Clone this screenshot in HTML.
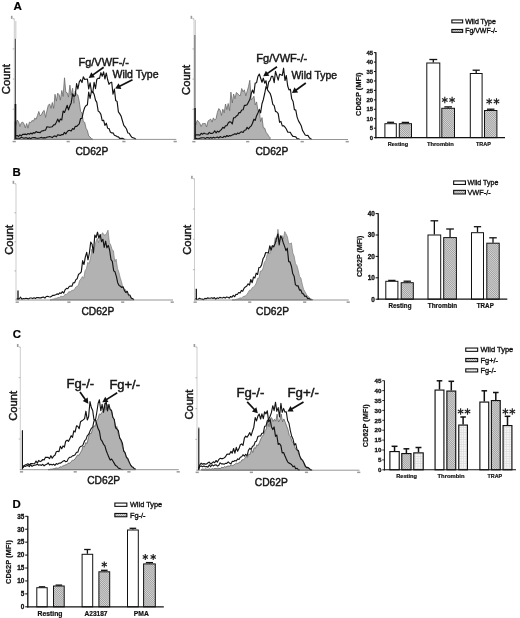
<!DOCTYPE html>
<html><head><meta charset="utf-8"><title>Figure</title>
<style>html,body{margin:0;padding:0;background:#fff;}body{width:520px;height:618px;overflow:hidden;font-family:"Liberation Sans",sans-serif;}svg{display:block;filter:blur(0.45px);}</style>
</head><body>
<svg width="520" height="618" viewBox="0 0 520 618" font-family="'Liberation Sans', sans-serif">
<defs>
<pattern id="hat" width="1.5" height="1.5" patternUnits="userSpaceOnUse" patternTransform="rotate(-45)"><rect width="1.5" height="1.5" fill="#d8d8d8"/><rect width="0.75" height="1.5" fill="#9c9c9c"/></pattern>
<pattern id="dot" width="2.4" height="2.4" patternUnits="userSpaceOnUse"><rect width="2.4" height="2.4" fill="#f7f7f7"/><rect width="0.8" height="2.4" fill="#dedede"/><rect width="2.4" height="0.8" fill="#dedede"/></pattern>
</defs>
<rect width="520" height="618" fill="#fff"/>
<text x="13.40" y="9.70" font-size="11.6" font-weight="bold" text-anchor="start" fill="#000"  stroke="#000" stroke-width="0.2">A</text>
<path d="M14.5 121.7 L15.8 125.5 L17.2 120.0 L18.6 121.9 L19.9 126.5 L21.3 122.8 L22.6 122.0 L24.0 124.0 L25.3 127.8 L26.7 123.5 L28.0 128.2 L29.4 122.1 L30.7 122.7 L32.1 120.4 L33.4 121.3 L34.8 118.1 L36.1 119.3 L37.5 115.4 L38.8 111.5 L40.2 115.8 L41.5 114.8 L42.9 111.6 L44.2 110.4 L45.6 117.4 L46.9 111.0 L48.3 105.3 L49.6 103.9 L51.0 108.4 L52.3 102.5 L53.7 108.4 L55.0 94.3 L56.4 101.1 L57.7 93.2 L59.1 94.8 L60.4 100.1 L61.8 90.5 L63.1 96.4 L64.5 77.8 L65.8 92.2 L67.2 92.9 L68.5 97.1 L69.9 85.1 L71.2 95.2 L72.6 88.3 L73.9 103.3 L75.2 91.1 L76.6 94.4 L77.9 95.0 L79.3 101.8 L80.6 111.6 L82.0 112.9 L83.3 121.8 L84.7 122.3 L86.0 128.2 L87.4 130.6 L88.7 136.0 L90.1 137.0 L91.4 138.7 L92.8 139.2 L92.8 139.4 L14.5 139.4 Z" fill="#b2b2b2" stroke="#6a6a6a" stroke-width="0.8" stroke-linejoin="round"/>
<path d="M14.5 136.2 L15.8 135.7 L17.2 135.6 L18.6 136.4 L19.9 134.9 L21.3 135.8 L22.6 134.4 L24.0 134.4 L25.3 134.1 L26.7 134.7 L28.0 133.5 L29.4 134.2 L30.7 133.1 L32.1 134.0 L33.4 132.6 L34.8 133.1 L36.1 131.5 L37.5 132.4 L38.8 132.4 L40.2 132.6 L41.5 131.0 L42.9 130.9 L44.2 130.3 L45.6 130.1 L46.9 126.8 L48.3 127.0 L49.6 127.3 L51.0 127.0 L52.3 126.7 L53.7 124.9 L55.0 124.6 L56.4 122.3 L57.7 119.1 L59.1 122.1 L60.4 119.1 L61.8 119.9 L63.1 111.0 L64.5 112.5 L65.8 109.1 L67.2 105.3 L68.5 109.9 L69.9 105.8 L71.2 102.9 L72.6 93.8 L73.9 96.4 L75.2 95.6 L76.6 83.6 L77.9 89.0 L79.3 81.9 L80.6 79.7 L82.0 82.6 L83.3 76.9 L84.7 79.4 L86.0 79.2 L87.4 79.0 L88.7 88.9 L90.1 82.8 L91.4 91.2 L92.8 91.9 L94.1 94.2 L95.5 100.1 L96.8 102.4 L98.2 111.1 L99.5 112.0 L100.9 114.4 L102.2 120.7 L103.6 120.2 L104.9 125.4 L106.3 123.2 L107.6 128.2 L109.0 128.5 L110.3 132.0 L111.7 133.0 L113.0 132.9 L114.4 135.2 L115.7 135.7 L117.1 136.6 L118.4 136.9 L119.8 138.5 L121.1 138.4 L122.5 138.3 L123.8 139.0 L125.2 139.2" fill="none" stroke="#141414" stroke-width="1.15" stroke-linejoin="round"/>
<path d="M14.5 138.1 L15.8 138.5 L17.2 138.2 L18.6 138.2 L19.9 138.4 L21.3 137.2 L22.6 137.7 L24.0 138.3 L25.3 137.9 L26.7 137.8 L28.0 138.7 L29.4 137.8 L30.7 138.7 L32.1 137.8 L33.4 137.6 L34.8 137.6 L36.1 138.1 L37.5 138.3 L38.8 138.1 L40.2 137.8 L41.5 137.4 L42.9 138.1 L44.2 137.6 L45.6 138.0 L46.9 137.1 L48.3 137.0 L49.6 136.5 L51.0 137.0 L52.3 137.6 L53.7 136.2 L55.0 135.9 L56.4 136.8 L57.7 134.8 L59.1 135.1 L60.4 135.5 L61.8 134.5 L63.1 134.6 L64.5 132.4 L65.8 133.9 L67.2 131.7 L68.5 130.5 L69.9 130.4 L71.2 131.0 L72.6 128.5 L73.9 129.4 L75.2 126.4 L76.6 126.5 L77.9 125.1 L79.3 123.9 L80.6 118.5 L82.0 118.4 L83.3 111.9 L84.7 107.5 L86.0 105.7 L87.4 104.8 L88.7 92.0 L90.1 98.5 L91.4 91.3 L92.8 92.6 L94.1 82.4 L95.5 88.6 L96.8 79.4 L98.2 78.2 L99.5 78.4 L100.9 72.7 L102.2 76.2 L103.6 71.9 L104.9 79.0 L106.3 73.0 L107.6 79.5 L109.0 84.3 L110.3 82.7 L111.7 82.2 L113.0 94.2 L114.4 89.1 L115.7 100.6 L117.1 101.4 L118.4 111.9 L119.8 113.9 L121.1 116.1 L122.5 121.0 L123.8 125.4 L125.2 127.0 L126.5 129.0 L127.9 133.0 L129.2 133.2 L130.6 135.6 L131.9 137.3 L133.3 137.9 L134.6 138.3 L136.0 139.4" fill="none" stroke="#141414" stroke-width="1.15" stroke-linejoin="round"/>
<line x1="15.80" y1="21.00" x2="15.80" y2="38.75" stroke="#cfcfcf" stroke-width="1.2" />
<line x1="15.30" y1="38.75" x2="15.30" y2="104.00" stroke="#383838" stroke-width="1.05" />
<line x1="15.30" y1="104.00" x2="15.30" y2="139.40" stroke="#111" stroke-width="2.0" />
<line x1="14.30" y1="18.75" x2="14.30" y2="139.80" stroke="#ababab" stroke-width="0.6" />
<line x1="13.80" y1="139.40" x2="176.30" y2="139.40" stroke="#7a7a7a" stroke-width="0.8" />
<line x1="12.70" y1="18.75" x2="14.30" y2="18.75" stroke="#8a8a8a" stroke-width="0.6" />
<line x1="12.70" y1="48.91" x2="14.30" y2="48.91" stroke="#8a8a8a" stroke-width="0.6" />
<line x1="12.70" y1="79.08" x2="14.30" y2="79.08" stroke="#8a8a8a" stroke-width="0.6" />
<line x1="12.70" y1="109.24" x2="14.30" y2="109.24" stroke="#8a8a8a" stroke-width="0.6" />
<rect x="12.6" y="140.8" width="3.2" height="1.5" fill="#9a9a9a"/>
<rect x="66.6" y="140.8" width="3.2" height="1.5" fill="#9a9a9a"/>
<rect x="122.3" y="140.8" width="3.2" height="1.5" fill="#9a9a9a"/>
<rect x="173.6" y="140.8" width="3.2" height="1.5" fill="#9a9a9a"/>
<rect x="10.9" y="15.8" width="1.6" height="3" fill="#9a9a9a"/>
<text x="10.50" y="79.20" font-size="10.4" font-weight="normal" text-anchor="middle" fill="#161616" transform="rotate(-90 10.50 79.20)" textLength="30.0" lengthAdjust="spacingAndGlyphs"  stroke="#161616" stroke-width="0.45">Count</text>
<text x="91.90" y="155.00" font-size="11.4" font-weight="normal" text-anchor="middle" fill="#161616" textLength="33.0" lengthAdjust="spacingAndGlyphs"  stroke="#161616" stroke-width="0.45">CD62P</text>
<text x="78.50" y="65.50" font-size="11.3" font-weight="normal" text-anchor="start" fill="#161616" textLength="50.5" lengthAdjust="spacingAndGlyphs"  stroke="#161616" stroke-width="0.45">Fg/VWF-/-</text>
<text x="112.50" y="77.60" font-size="10.8" font-weight="normal" text-anchor="start" fill="#161616" textLength="46.0" lengthAdjust="spacingAndGlyphs"  stroke="#161616" stroke-width="0.45">Wild Type</text>
<line x1="103.70" y1="67.30" x2="92.24" y2="75.40" stroke="#111" stroke-width="1.7" />
<polygon points="88.7,77.9 91.3,72.3 94.9,77.3" fill="#111"/>
<line x1="132.50" y1="79.80" x2="119.08" y2="86.55" stroke="#111" stroke-width="1.7" />
<polygon points="115.2,88.5 118.6,83.3 121.4,88.9" fill="#111"/>
<path d="M194.5 122.5 L195.8 124.9 L197.2 120.3 L198.5 121.5 L199.9 123.6 L201.2 126.6 L202.6 123.5 L203.9 123.7 L205.3 123.4 L206.6 127.0 L208.0 121.2 L209.3 120.1 L210.7 119.1 L212.0 122.1 L213.4 117.9 L214.7 120.2 L216.1 118.5 L217.4 112.4 L218.8 108.6 L220.1 110.1 L221.5 115.5 L222.8 109.2 L224.2 112.8 L225.5 104.0 L226.9 109.7 L228.2 103.5 L229.6 110.7 L230.9 92.1 L232.3 103.0 L233.6 94.0 L235.0 98.7 L236.3 92.6 L237.7 93.5 L239.0 95.4 L240.4 95.6 L241.7 88.5 L243.1 91.8 L244.4 89.8 L245.8 95.8 L247.1 91.4 L248.5 86.7 L249.8 80.3 L251.2 99.9 L252.5 98.6 L253.9 96.2 L255.2 104.9 L256.6 101.9 L257.9 110.5 L259.3 111.3 L260.6 121.6 L262.0 117.6 L263.3 127.8 L264.7 128.1 L266.0 132.2 L267.4 133.9 L268.7 136.2 L270.1 137.6 L270.1 139.5 L194.5 139.5 Z" fill="#b2b2b2" stroke="#6a6a6a" stroke-width="0.8" stroke-linejoin="round"/>
<path d="M194.5 136.4 L195.8 134.8 L197.2 134.8 L198.5 134.9 L199.9 135.3 L201.2 133.3 L202.6 134.2 L203.9 133.1 L205.3 133.8 L206.6 134.0 L208.0 134.1 L209.3 132.4 L210.7 133.5 L212.0 133.4 L213.4 132.7 L214.7 130.8 L216.1 133.0 L217.4 131.2 L218.8 132.1 L220.1 130.6 L221.5 129.5 L222.8 127.3 L224.2 128.1 L225.5 125.8 L226.9 125.7 L228.2 123.0 L229.6 121.8 L230.9 122.1 L232.3 124.0 L233.6 117.7 L235.0 117.6 L236.3 116.1 L237.7 115.2 L239.0 112.6 L240.4 112.6 L241.7 110.0 L243.1 109.8 L244.4 105.3 L245.8 105.3 L247.1 104.7 L248.5 102.0 L249.8 99.6 L251.2 93.8 L252.5 90.0 L253.9 93.3 L255.2 83.0 L256.6 82.7 L257.9 76.5 L259.3 74.0 L260.6 78.0 L262.0 82.2 L263.3 78.2 L264.7 83.2 L266.0 80.7 L267.4 89.6 L268.7 91.7 L270.1 93.3 L271.4 97.3 L272.8 104.3 L274.2 105.7 L275.5 111.4 L276.9 112.0 L278.2 113.7 L279.6 122.3 L280.9 121.4 L282.3 125.9 L283.6 125.7 L285.0 127.2 L286.3 129.0 L287.7 132.1 L289.0 132.2 L290.4 132.4 L291.7 134.9 L293.1 136.5 L294.4 136.5 L295.8 136.9 L297.1 138.6 L298.5 138.8 L299.8 139.4" fill="none" stroke="#141414" stroke-width="1.15" stroke-linejoin="round"/>
<path d="M194.5 138.8 L195.8 138.2 L197.2 138.7 L198.5 138.7 L199.9 138.2 L201.2 137.9 L202.6 137.7 L203.9 137.8 L205.3 138.6 L206.6 137.6 L208.0 137.5 L209.3 138.4 L210.7 137.4 L212.0 138.2 L213.4 137.3 L214.7 137.9 L216.1 137.5 L217.4 137.0 L218.8 137.9 L220.1 136.6 L221.5 137.2 L222.8 137.5 L224.2 136.3 L225.5 137.0 L226.9 135.5 L228.2 136.5 L229.6 135.5 L230.9 135.9 L232.3 134.9 L233.6 134.6 L235.0 133.7 L236.3 134.4 L237.7 133.0 L239.0 133.7 L240.4 132.3 L241.7 131.8 L243.1 132.5 L244.4 130.2 L245.8 130.0 L247.1 127.3 L248.5 129.0 L249.8 127.2 L251.2 125.9 L252.5 123.2 L253.9 119.2 L255.2 120.3 L256.6 115.7 L257.9 113.0 L259.3 109.4 L260.6 112.9 L262.0 103.7 L263.3 99.7 L264.7 93.5 L266.0 86.7 L267.4 88.8 L268.7 82.0 L270.1 80.4 L271.4 76.4 L272.8 76.4 L274.2 82.6 L275.5 71.4 L276.9 75.8 L278.2 80.1 L279.6 74.2 L280.9 74.8 L282.3 75.4 L283.6 68.2 L285.0 80.5 L286.3 75.5 L287.7 86.0 L289.0 89.9 L290.4 89.4 L291.7 98.8 L293.1 101.5 L294.4 109.6 L295.8 110.1 L297.1 117.1 L298.5 120.9 L299.8 123.1 L301.2 125.7 L302.5 130.4 L303.9 132.7 L305.2 135.0 L306.6 135.5 L307.9 135.4 L309.3 137.7 L310.6 138.7 L312.0 139.5" fill="none" stroke="#141414" stroke-width="1.15" stroke-linejoin="round"/>
<line x1="195.40" y1="20.00" x2="195.40" y2="35.00" stroke="#cfcfcf" stroke-width="1.2" />
<line x1="194.90" y1="35.00" x2="194.90" y2="108.00" stroke="#383838" stroke-width="1.05" />
<line x1="194.90" y1="108.00" x2="194.90" y2="139.50" stroke="#111" stroke-width="1.9" />
<line x1="194.00" y1="18.75" x2="194.00" y2="139.90" stroke="#ababab" stroke-width="0.6" />
<line x1="193.50" y1="139.50" x2="348.00" y2="139.50" stroke="#7a7a7a" stroke-width="0.8" />
<line x1="192.40" y1="18.75" x2="194.00" y2="18.75" stroke="#8a8a8a" stroke-width="0.6" />
<line x1="192.40" y1="48.94" x2="194.00" y2="48.94" stroke="#8a8a8a" stroke-width="0.6" />
<line x1="192.40" y1="79.12" x2="194.00" y2="79.12" stroke="#8a8a8a" stroke-width="0.6" />
<line x1="192.40" y1="109.31" x2="194.00" y2="109.31" stroke="#8a8a8a" stroke-width="0.6" />
<rect x="192.3" y="140.9" width="3.2" height="1.5" fill="#9a9a9a"/>
<rect x="246.1" y="140.9" width="3.2" height="1.5" fill="#9a9a9a"/>
<rect x="300.6" y="140.9" width="3.2" height="1.5" fill="#9a9a9a"/>
<rect x="345.6" y="140.9" width="3.2" height="1.5" fill="#9a9a9a"/>
<rect x="190.6" y="15.8" width="1.6" height="3" fill="#9a9a9a"/>
<text x="189.80" y="79.90" font-size="10.4" font-weight="normal" text-anchor="middle" fill="#161616" transform="rotate(-90 189.80 79.90)" textLength="30.0" lengthAdjust="spacingAndGlyphs"  stroke="#161616" stroke-width="0.45">Count</text>
<text x="271.90" y="154.50" font-size="11.4" font-weight="normal" text-anchor="middle" fill="#161616" textLength="33.0" lengthAdjust="spacingAndGlyphs"  stroke="#161616" stroke-width="0.45">CD62P</text>
<text x="256.30" y="62.00" font-size="11.3" font-weight="normal" text-anchor="start" fill="#161616" textLength="51.0" lengthAdjust="spacingAndGlyphs"  stroke="#161616" stroke-width="0.45">Fg/VWF-/-</text>
<text x="291.50" y="78.70" font-size="10.8" font-weight="normal" text-anchor="start" fill="#161616" textLength="45.5" lengthAdjust="spacingAndGlyphs"  stroke="#161616" stroke-width="0.45">Wild Type</text>
<line x1="277.00" y1="66.80" x2="266.77" y2="73.84" stroke="#111" stroke-width="1.7" />
<polygon points="263.2,76.3 265.9,70.7 269.4,75.8" fill="#111"/>
<line x1="305.80" y1="83.00" x2="295.51" y2="90.45" stroke="#111" stroke-width="1.7" />
<polygon points="292.0,93.0 294.5,87.3 298.2,92.4" fill="#111"/>
<text x="12.40" y="175.50" font-size="11.4" font-weight="bold" text-anchor="start" fill="#000"  stroke="#000" stroke-width="0.2">B</text>
<path d="M50.0 300.0 L51.4 299.6 L52.7 299.2 L54.1 299.0 L55.4 298.3 L56.8 298.2 L58.1 297.5 L59.5 297.4 L60.8 296.2 L62.2 296.6 L63.5 296.6 L64.9 294.5 L66.2 294.4 L67.5 293.6 L68.9 291.6 L70.2 292.1 L71.6 290.5 L72.9 290.2 L74.3 289.9 L75.6 287.3 L77.0 286.4 L78.3 285.5 L79.7 280.4 L81.0 278.9 L82.4 276.6 L83.7 278.4 L85.1 270.7 L86.4 268.9 L87.8 262.3 L89.1 263.7 L90.5 258.3 L91.8 249.1 L93.2 254.1 L94.5 247.5 L95.9 241.7 L97.2 238.3 L98.6 242.8 L99.9 234.7 L101.3 235.4 L102.6 232.7 L104.0 235.1 L105.3 235.0 L106.7 233.2 L108.0 230.2 L109.4 242.7 L110.7 244.8 L112.1 249.7 L113.4 250.8 L114.8 261.7 L116.1 259.1 L117.5 268.4 L118.8 272.1 L120.2 277.8 L121.5 281.7 L122.9 287.9 L124.2 289.0 L125.6 289.6 L126.9 293.5 L128.3 295.0 L129.6 297.3 L131.0 297.8 L132.3 298.8 L133.7 299.1 L133.7 300.0 L50.0 300.0 Z" fill="#b2b2b2" stroke="#7c7c7c" stroke-width="0.7" stroke-linejoin="round"/>
<path d="M16.5 298.7 L17.9 298.8 L19.2 299.0 L20.6 297.2 L21.9 299.2 L23.3 298.5 L24.6 298.8 L26.0 298.3 L27.3 298.6 L28.7 298.9 L30.0 298.0 L31.4 298.0 L32.7 298.6 L34.1 297.8 L35.4 298.4 L36.8 297.5 L38.1 297.6 L39.5 297.9 L40.8 297.9 L42.2 297.4 L43.5 297.0 L44.9 298.1 L46.2 296.5 L47.6 296.3 L48.9 296.8 L50.3 297.0 L51.6 296.2 L53.0 295.3 L54.3 295.3 L55.7 294.7 L57.0 293.9 L58.4 294.3 L59.7 292.9 L61.1 293.5 L62.4 291.7 L63.8 293.1 L65.1 289.8 L66.5 288.3 L67.8 288.7 L69.2 286.5 L70.5 286.0 L71.9 286.2 L73.2 282.7 L74.6 282.8 L75.9 279.6 L77.2 278.7 L78.6 274.2 L79.9 273.4 L81.3 271.8 L82.6 260.7 L84.0 264.5 L85.3 257.1 L86.7 252.3 L88.0 259.8 L89.4 253.0 L90.7 242.1 L92.1 244.3 L93.4 252.6 L94.8 235.1 L96.1 237.5 L97.5 232.2 L98.8 238.1 L100.2 234.6 L101.5 241.6 L102.9 239.3 L104.2 247.4 L105.6 241.2 L106.9 247.8 L108.3 245.4 L109.6 250.0 L111.0 259.6 L112.3 261.3 L113.7 270.9 L115.0 271.8 L116.4 276.6 L117.7 282.7 L119.1 285.6 L120.4 286.3 L121.8 287.5 L123.1 286.8 L124.5 290.6 L125.8 292.5 L127.2 291.3 L128.5 294.9 L129.9 295.1 L131.2 297.9 L132.6 298.7 L133.9 299.7" fill="none" stroke="#141414" stroke-width="1.15" stroke-linejoin="round"/>
<line x1="18.00" y1="290.50" x2="18.00" y2="300.00" stroke="#111" stroke-width="1.3" />
<line x1="16.00" y1="183.75" x2="16.00" y2="300.40" stroke="#ababab" stroke-width="0.6" />
<line x1="15.50" y1="300.00" x2="173.00" y2="300.00" stroke="#7a7a7a" stroke-width="0.8" />
<line x1="14.40" y1="183.75" x2="16.00" y2="183.75" stroke="#8a8a8a" stroke-width="0.6" />
<line x1="14.40" y1="212.81" x2="16.00" y2="212.81" stroke="#8a8a8a" stroke-width="0.6" />
<line x1="14.40" y1="241.88" x2="16.00" y2="241.88" stroke="#8a8a8a" stroke-width="0.6" />
<line x1="14.40" y1="270.94" x2="16.00" y2="270.94" stroke="#8a8a8a" stroke-width="0.6" />
<rect x="15.6" y="301.4" width="3.2" height="1.5" fill="#9a9a9a"/>
<rect x="67.3" y="301.4" width="3.2" height="1.5" fill="#9a9a9a"/>
<rect x="121.1" y="301.4" width="3.2" height="1.5" fill="#9a9a9a"/>
<rect x="170.6" y="301.4" width="3.2" height="1.5" fill="#9a9a9a"/>
<rect x="12.6" y="180.8" width="1.6" height="3" fill="#9a9a9a"/>
<text x="12.80" y="239.80" font-size="10.4" font-weight="normal" text-anchor="middle" fill="#161616" transform="rotate(-90 12.80 239.80)" textLength="30.0" lengthAdjust="spacingAndGlyphs"  stroke="#161616" stroke-width="0.45">Count</text>
<text x="97.90" y="314.50" font-size="11.4" font-weight="normal" text-anchor="middle" fill="#161616" textLength="33.0" lengthAdjust="spacingAndGlyphs"  stroke="#161616" stroke-width="0.45">CD62P</text>
<path d="M232.0 300.0 L233.3 299.7 L234.7 300.0 L236.0 299.2 L237.4 299.1 L238.7 298.6 L240.1 297.9 L241.4 298.1 L242.8 296.9 L244.1 296.3 L245.5 295.8 L246.8 294.7 L248.2 292.4 L249.5 290.2 L250.9 290.2 L252.2 287.7 L253.6 286.9 L254.9 285.7 L256.3 283.0 L257.6 278.3 L259.0 278.2 L260.3 271.0 L261.7 271.0 L263.1 268.0 L264.4 262.2 L265.8 260.5 L267.1 254.9 L268.5 252.6 L269.8 254.0 L271.2 245.9 L272.5 247.2 L273.9 245.9 L275.2 237.6 L276.6 241.9 L277.9 229.3 L279.3 238.8 L280.6 239.5 L282.0 235.5 L283.3 239.1 L284.7 231.6 L286.0 233.9 L287.4 236.8 L288.7 243.5 L290.1 243.8 L291.4 242.9 L292.8 252.9 L294.1 256.1 L295.5 263.7 L296.8 265.5 L298.2 270.3 L299.5 276.4 L300.9 278.0 L302.2 284.0 L303.6 289.4 L304.9 291.6 L306.3 294.2 L307.6 296.2 L309.0 297.0 L310.3 298.8 L311.7 299.2 L313.0 299.8 L313.0 300.0 L232.0 300.0 Z" fill="#b2b2b2" stroke="#7c7c7c" stroke-width="0.7" stroke-linejoin="round"/>
<path d="M195.5 298.5 L196.8 299.2 L198.2 299.2 L199.5 298.3 L200.9 299.0 L202.2 299.1 L203.6 299.6 L204.9 298.4 L206.3 298.8 L207.6 297.9 L209.0 298.3 L210.3 298.2 L211.7 297.8 L213.0 298.5 L214.4 297.6 L215.7 299.1 L217.1 297.8 L218.4 298.4 L219.8 297.4 L221.1 297.7 L222.5 298.0 L223.8 297.3 L225.2 298.1 L226.5 297.0 L227.9 297.2 L229.2 298.1 L230.6 296.5 L231.9 297.2 L233.3 295.3 L234.6 296.6 L236.0 294.4 L237.3 294.5 L238.7 292.5 L240.0 293.1 L241.4 290.4 L242.7 291.2 L244.1 288.2 L245.4 286.9 L246.8 286.0 L248.1 283.8 L249.5 285.1 L250.8 279.5 L252.2 282.7 L253.5 277.0 L254.9 277.9 L256.2 273.2 L257.6 274.5 L258.9 267.5 L260.3 267.2 L261.6 264.9 L263.0 258.8 L264.3 256.8 L265.7 252.5 L267.0 252.7 L268.4 252.8 L269.8 245.9 L271.1 250.2 L272.5 245.7 L273.8 246.8 L275.2 243.4 L276.5 238.6 L277.9 234.0 L279.2 244.9 L280.6 235.8 L281.9 238.0 L283.3 242.9 L284.6 246.4 L286.0 250.6 L287.3 248.2 L288.7 261.6 L290.0 261.9 L291.4 266.2 L292.7 273.5 L294.1 276.2 L295.4 284.6 L296.8 285.9 L298.1 285.8 L299.5 290.1 L300.8 289.9 L302.2 293.5 L303.5 293.9 L304.9 296.5 L306.2 296.0 L307.6 298.6 L308.9 298.6 L310.3 299.5 L311.6 299.8" fill="none" stroke="#141414" stroke-width="1.15" stroke-linejoin="round"/>
<line x1="196.30" y1="288.75" x2="196.30" y2="300.00" stroke="#111" stroke-width="1.3" />
<line x1="194.50" y1="178.75" x2="194.50" y2="300.40" stroke="#ababab" stroke-width="0.6" />
<line x1="194.00" y1="300.00" x2="348.75" y2="300.00" stroke="#7a7a7a" stroke-width="0.8" />
<line x1="192.90" y1="178.75" x2="194.50" y2="178.75" stroke="#8a8a8a" stroke-width="0.6" />
<line x1="192.90" y1="209.06" x2="194.50" y2="209.06" stroke="#8a8a8a" stroke-width="0.6" />
<line x1="192.90" y1="239.38" x2="194.50" y2="239.38" stroke="#8a8a8a" stroke-width="0.6" />
<line x1="192.90" y1="269.69" x2="194.50" y2="269.69" stroke="#8a8a8a" stroke-width="0.6" />
<rect x="193.6" y="301.4" width="3.2" height="1.5" fill="#9a9a9a"/>
<rect x="248.1" y="301.4" width="3.2" height="1.5" fill="#9a9a9a"/>
<rect x="303.1" y="301.4" width="3.2" height="1.5" fill="#9a9a9a"/>
<rect x="346.6" y="301.4" width="3.2" height="1.5" fill="#9a9a9a"/>
<rect x="191.1" y="175.8" width="1.6" height="3" fill="#9a9a9a"/>
<text x="190.60" y="239.80" font-size="10.4" font-weight="normal" text-anchor="middle" fill="#161616" transform="rotate(-90 190.60 239.80)" textLength="30.0" lengthAdjust="spacingAndGlyphs"  stroke="#161616" stroke-width="0.45">Count</text>
<text x="272.50" y="314.50" font-size="11.4" font-weight="normal" text-anchor="middle" fill="#161616" textLength="33.0" lengthAdjust="spacingAndGlyphs"  stroke="#161616" stroke-width="0.45">CD62P</text>
<text x="12.70" y="337.50" font-size="11.4" font-weight="bold" text-anchor="start" fill="#000"  stroke="#000" stroke-width="0.2">C</text>
<path d="M48.0 469.7 L49.4 469.5 L50.7 469.1 L52.1 469.2 L53.4 468.7 L54.8 468.6 L56.1 467.9 L57.5 468.2 L58.8 467.9 L60.2 466.8 L61.5 466.9 L62.9 465.9 L64.2 465.5 L65.6 464.8 L66.9 464.7 L68.2 463.1 L69.6 463.3 L70.9 461.7 L72.3 460.4 L73.6 460.2 L75.0 459.1 L76.3 456.9 L77.7 454.9 L79.0 455.4 L80.4 452.7 L81.7 450.6 L83.1 445.8 L84.4 447.1 L85.8 442.6 L87.1 443.5 L88.5 437.2 L89.8 433.1 L91.2 433.7 L92.5 429.2 L93.9 425.8 L95.2 426.3 L96.6 420.4 L97.9 419.2 L99.3 413.9 L100.6 414.5 L102.0 412.2 L103.3 411.0 L104.7 403.1 L106.0 410.2 L107.4 404.6 L108.7 407.8 L110.1 409.2 L111.4 409.6 L112.8 418.0 L114.1 419.1 L115.5 428.6 L116.8 426.4 L118.2 433.8 L119.5 436.6 L120.9 440.9 L122.2 446.2 L123.6 449.8 L124.9 453.2 L126.3 457.3 L127.6 459.8 L129.0 462.7 L130.3 464.4 L131.7 466.0 L133.0 468.3 L134.4 468.6 L135.7 469.4 L135.7 469.7 L48.0 469.7 Z" fill="#b2b2b2" stroke="#555" stroke-width="0.7" stroke-linejoin="round"/>
<path d="M22.5 468.0 L23.9 466.7 L25.2 464.8 L26.6 464.5 L27.9 463.8 L29.3 465.0 L30.6 463.6 L32.0 463.5 L33.3 463.7 L34.7 463.5 L36.0 461.1 L37.4 463.1 L38.7 460.4 L40.1 461.6 L41.4 461.0 L42.8 459.5 L44.1 460.0 L45.5 457.2 L46.8 457.4 L48.2 457.3 L49.5 458.7 L50.9 455.7 L52.2 458.2 L53.6 456.1 L54.9 455.2 L56.3 451.8 L57.6 451.3 L59.0 451.6 L60.3 446.3 L61.7 448.7 L63.0 445.9 L64.4 447.2 L65.7 441.2 L67.1 440.2 L68.4 441.4 L69.8 438.9 L71.1 435.7 L72.5 437.4 L73.8 430.8 L75.1 432.0 L76.5 425.8 L77.8 426.3 L79.2 428.7 L80.5 421.8 L81.9 420.8 L83.2 419.9 L84.6 418.6 L85.9 411.2 L87.3 420.0 L88.6 416.8 L90.0 401.5 L91.3 407.5 L92.7 410.5 L94.0 420.0 L95.4 419.6 L96.7 424.0 L98.1 428.8 L99.4 431.1 L100.8 439.3 L102.1 441.1 L103.5 444.3 L104.8 445.7 L106.2 450.5 L107.5 453.9 L108.9 457.2 L110.2 460.1 L111.6 459.0 L112.9 461.0 L114.3 463.4 L115.6 465.6 L117.0 466.3 L118.3 468.0 L119.7 468.6 L121.0 469.3 L122.4 469.6" fill="none" stroke="#141414" stroke-width="1.15" stroke-linejoin="round"/>
<path d="M22.5 468.1 L23.9 465.6 L25.2 466.4 L26.6 465.7 L27.9 465.4 L29.3 466.6 L30.6 464.6 L32.0 466.4 L33.3 465.5 L34.7 465.1 L36.0 465.0 L37.4 464.2 L38.7 465.2 L40.1 464.8 L41.4 465.4 L42.8 464.3 L44.1 465.8 L45.5 464.7 L46.8 464.3 L48.2 462.9 L49.5 465.0 L50.9 464.3 L52.2 465.0 L53.6 464.1 L54.9 465.3 L56.3 463.6 L57.6 464.3 L59.0 463.1 L60.3 463.3 L61.7 462.3 L63.0 461.2 L64.4 460.5 L65.7 461.8 L67.1 461.3 L68.4 458.4 L69.8 457.3 L71.1 457.1 L72.5 455.8 L73.8 455.6 L75.1 454.7 L76.5 452.2 L77.8 452.2 L79.2 448.1 L80.5 446.5 L81.9 446.0 L83.2 444.5 L84.6 440.7 L85.9 439.6 L87.3 435.6 L88.6 434.5 L90.0 431.1 L91.3 428.4 L92.7 427.1 L94.0 420.9 L95.4 420.4 L96.7 413.0 L98.1 403.5 L99.4 399.7 L100.8 410.8 L102.1 404.3 L103.5 412.3 L104.8 405.3 L106.2 401.7 L107.5 410.9 L108.9 404.3 L110.2 409.6 L111.6 410.8 L112.9 417.3 L114.3 419.5 L115.6 427.3 L117.0 429.2 L118.3 430.5 L119.7 438.2 L121.0 439.8 L122.4 443.2 L123.7 451.1 L125.1 452.7 L126.4 457.2 L127.8 458.5 L129.1 461.6 L130.5 464.9 L131.8 466.7 L133.2 467.2 L134.5 469.0 L135.9 469.1" fill="none" stroke="#141414" stroke-width="1.1" stroke-linejoin="round"/>
<line x1="22.40" y1="430.00" x2="22.40" y2="431.00" stroke="#383838" stroke-width="1.05" />
<line x1="22.40" y1="431.00" x2="22.40" y2="469.70" stroke="#111" stroke-width="1.15" />
<line x1="20.30" y1="347.00" x2="20.30" y2="470.10" stroke="#ababab" stroke-width="0.6" />
<line x1="19.80" y1="469.70" x2="178.75" y2="469.70" stroke="#7a7a7a" stroke-width="0.8" />
<line x1="18.70" y1="347.00" x2="20.30" y2="347.00" stroke="#8a8a8a" stroke-width="0.6" />
<line x1="18.70" y1="377.68" x2="20.30" y2="377.68" stroke="#8a8a8a" stroke-width="0.6" />
<line x1="18.70" y1="408.35" x2="20.30" y2="408.35" stroke="#8a8a8a" stroke-width="0.6" />
<line x1="18.70" y1="439.02" x2="20.30" y2="439.02" stroke="#8a8a8a" stroke-width="0.6" />
<rect x="19.9" y="471.1" width="3.2" height="1.5" fill="#9a9a9a"/>
<rect x="73.6" y="471.1" width="3.2" height="1.5" fill="#9a9a9a"/>
<rect x="127.3" y="471.1" width="3.2" height="1.5" fill="#9a9a9a"/>
<rect x="176.6" y="471.1" width="3.2" height="1.5" fill="#9a9a9a"/>
<rect x="16.9" y="344.0" width="1.6" height="3" fill="#9a9a9a"/>
<text x="16.90" y="405.80" font-size="10.4" font-weight="normal" text-anchor="middle" fill="#161616" transform="rotate(-90 16.90 405.80)" textLength="30.0" lengthAdjust="spacingAndGlyphs"  stroke="#161616" stroke-width="0.45">Count</text>
<text x="103.70" y="483.80" font-size="11.4" font-weight="normal" text-anchor="middle" fill="#161616" textLength="33.0" lengthAdjust="spacingAndGlyphs"  stroke="#161616" stroke-width="0.45">CD62P</text>
<text x="66.60" y="388.40" font-size="12.2" font-weight="normal" text-anchor="start" fill="#161616" textLength="27.6" lengthAdjust="spacingAndGlyphs"  stroke="#161616" stroke-width="0.45">Fg-/-</text>
<text x="109.40" y="388.50" font-size="12.2" font-weight="normal" text-anchor="start" fill="#161616" textLength="30.6" lengthAdjust="spacingAndGlyphs"  stroke="#161616" stroke-width="0.45">Fg+/-</text>
<line x1="80.00" y1="392.00" x2="85.79" y2="400.16" stroke="#111" stroke-width="1.7" />
<polygon points="88.3,403.7 82.7,401.1 87.7,397.5" fill="#111"/>
<line x1="117.20" y1="392.80" x2="105.97" y2="399.88" stroke="#111" stroke-width="1.7" />
<polygon points="102.3,402.2 105.2,396.7 108.5,402.0" fill="#111"/>
<path d="M201.5 469.3 L202.8 469.0 L204.2 469.4 L205.5 468.7 L206.9 469.3 L208.2 469.3 L209.6 468.7 L210.9 469.5 L212.3 468.5 L213.6 469.0 L215.0 468.3 L216.3 468.6 L217.7 468.2 L219.0 468.3 L220.4 468.8 L221.7 467.0 L223.1 467.8 L224.4 466.6 L225.8 467.0 L227.1 466.3 L228.5 466.0 L229.8 466.0 L231.2 465.2 L232.5 465.6 L233.9 465.0 L235.2 463.9 L236.6 463.2 L237.9 463.8 L239.3 462.1 L240.6 462.2 L242.0 459.7 L243.3 460.0 L244.7 458.4 L246.0 456.2 L247.4 457.5 L248.7 454.2 L250.1 454.3 L251.4 449.8 L252.8 452.5 L254.1 447.7 L255.5 448.3 L256.8 444.8 L258.2 445.5 L259.5 442.3 L260.9 438.8 L262.2 436.4 L263.6 434.6 L264.9 430.7 L266.3 429.0 L267.6 421.2 L269.0 426.7 L270.4 418.2 L271.7 417.7 L273.1 421.5 L274.4 419.2 L275.8 421.2 L277.1 414.1 L278.5 422.0 L279.8 420.1 L281.2 414.1 L282.5 421.8 L283.9 418.9 L285.2 422.2 L286.6 426.0 L287.9 429.3 L289.3 435.4 L290.6 436.7 L292.0 441.7 L293.3 442.6 L294.7 446.7 L296.0 449.6 L297.4 449.8 L298.7 454.1 L300.1 456.8 L301.4 458.4 L302.8 461.4 L304.1 462.6 L305.5 465.7 L306.8 467.5 L308.2 467.5 L309.5 469.3 L310.9 469.8 L312.2 470.1 L312.2 470.2 L201.5 470.2 Z" fill="#b2b2b2" stroke="#555" stroke-width="0.7" stroke-linejoin="round"/>
<path d="M198.5 469.8 L199.8 464.8 L201.2 463.2 L202.5 464.2 L203.9 463.6 L205.2 464.1 L206.6 464.0 L207.9 462.8 L209.3 462.1 L210.6 464.0 L212.0 463.1 L213.3 461.8 L214.7 462.7 L216.0 460.5 L217.4 462.1 L218.7 459.7 L220.1 458.3 L221.4 458.6 L222.8 458.6 L224.1 457.9 L225.5 456.8 L226.8 454.4 L228.2 454.1 L229.5 454.3 L230.9 451.4 L232.2 453.2 L233.6 448.5 L234.9 453.1 L236.3 447.4 L237.6 451.2 L239.0 448.6 L240.3 444.7 L241.7 443.9 L243.0 445.3 L244.4 438.1 L245.7 436.1 L247.1 437.2 L248.4 435.1 L249.8 432.6 L251.1 435.7 L252.5 431.2 L253.8 427.2 L255.2 417.5 L256.5 420.9 L257.9 416.1 L259.2 414.1 L260.6 419.0 L261.9 413.9 L263.3 418.6 L264.6 411.9 L266.0 413.8 L267.3 410.8 L268.7 422.0 L270.1 419.4 L271.4 426.7 L272.8 429.6 L274.1 426.9 L275.5 436.3 L276.8 435.0 L278.2 444.5 L279.5 443.6 L280.9 445.6 L282.2 453.0 L283.6 452.5 L284.9 455.8 L286.3 459.0 L287.6 461.8 L289.0 463.1 L290.3 463.6 L291.7 464.7 L293.0 466.7 L294.4 466.0 L295.7 468.8 L297.1 468.3 L298.4 469.9 L299.8 470.1" fill="none" stroke="#141414" stroke-width="1.15" stroke-linejoin="round"/>
<path d="M198.5 468.4 L199.8 466.5 L201.2 465.9 L202.5 466.7 L203.9 465.9 L205.2 466.8 L206.6 466.6 L207.9 467.2 L209.3 464.9 L210.6 466.7 L212.0 464.7 L213.3 465.9 L214.7 465.1 L216.0 464.7 L217.4 466.1 L218.7 465.6 L220.1 462.8 L221.4 463.9 L222.8 463.7 L224.1 464.3 L225.5 463.4 L226.8 463.4 L228.2 461.8 L229.5 463.1 L230.9 463.9 L232.2 461.4 L233.6 461.5 L234.9 460.5 L236.3 461.0 L237.6 458.9 L239.0 459.6 L240.3 457.3 L241.7 456.7 L243.0 454.7 L244.4 456.1 L245.7 454.3 L247.1 455.9 L248.4 450.4 L249.8 448.2 L251.1 449.5 L252.5 446.2 L253.8 445.7 L255.2 441.7 L256.5 441.2 L257.9 436.5 L259.2 436.0 L260.6 436.0 L261.9 433.3 L263.3 433.2 L264.6 426.3 L266.0 426.0 L267.3 420.6 L268.7 419.4 L270.1 416.2 L271.4 412.6 L272.8 405.7 L274.1 410.7 L275.5 402.2 L276.8 411.4 L278.2 407.6 L279.5 417.0 L280.9 403.2 L282.2 412.4 L283.6 408.4 L284.9 412.0 L286.3 411.9 L287.6 420.5 L289.0 423.3 L290.3 430.4 L291.7 436.3 L293.0 439.1 L294.4 445.0 L295.7 443.7 L297.1 449.9 L298.4 450.5 L299.8 456.1 L301.1 459.2 L302.5 460.1 L303.8 462.8 L305.2 466.2 L306.5 467.6 L307.9 467.4 L309.2 468.5 L310.6 470.0 L311.9 470.0" fill="none" stroke="#141414" stroke-width="1.1" stroke-linejoin="round"/>
<line x1="198.80" y1="427.50" x2="198.80" y2="428.50" stroke="#383838" stroke-width="1.05" />
<line x1="198.80" y1="428.50" x2="198.80" y2="470.20" stroke="#111" stroke-width="1.15" />
<line x1="197.00" y1="347.00" x2="197.00" y2="470.60" stroke="#ababab" stroke-width="0.6" />
<line x1="196.50" y1="470.20" x2="359.50" y2="470.20" stroke="#7a7a7a" stroke-width="0.8" />
<line x1="195.40" y1="347.00" x2="197.00" y2="347.00" stroke="#8a8a8a" stroke-width="0.6" />
<line x1="195.40" y1="377.80" x2="197.00" y2="377.80" stroke="#8a8a8a" stroke-width="0.6" />
<line x1="195.40" y1="408.60" x2="197.00" y2="408.60" stroke="#8a8a8a" stroke-width="0.6" />
<line x1="195.40" y1="439.40" x2="197.00" y2="439.40" stroke="#8a8a8a" stroke-width="0.6" />
<rect x="195.6" y="471.6" width="3.2" height="1.5" fill="#9a9a9a"/>
<rect x="249.8" y="471.6" width="3.2" height="1.5" fill="#9a9a9a"/>
<rect x="304.9" y="471.6" width="3.2" height="1.5" fill="#9a9a9a"/>
<rect x="357.1" y="471.6" width="3.2" height="1.5" fill="#9a9a9a"/>
<rect x="193.6" y="344.0" width="1.6" height="3" fill="#9a9a9a"/>
<text x="192.80" y="404.50" font-size="10.4" font-weight="normal" text-anchor="middle" fill="#161616" transform="rotate(-90 192.80 404.50)" textLength="30.0" lengthAdjust="spacingAndGlyphs"  stroke="#161616" stroke-width="0.45">Count</text>
<text x="271.30" y="486.30" font-size="11.4" font-weight="normal" text-anchor="middle" fill="#161616" textLength="33.0" lengthAdjust="spacingAndGlyphs"  stroke="#161616" stroke-width="0.45">CD62P</text>
<text x="236.50" y="396.60" font-size="12.3" font-weight="normal" text-anchor="start" fill="#161616" textLength="27.8" lengthAdjust="spacingAndGlyphs"  stroke="#161616" stroke-width="0.45">Fg-/-</text>
<text x="287.50" y="396.60" font-size="12.3" font-weight="normal" text-anchor="start" fill="#161616" textLength="31.3" lengthAdjust="spacingAndGlyphs"  stroke="#161616" stroke-width="0.45">Fg+/-</text>
<line x1="247.20" y1="401.80" x2="254.84" y2="410.02" stroke="#111" stroke-width="1.7" />
<polygon points="257.8,413.2 251.9,411.4 256.4,407.2" fill="#111"/>
<line x1="303.50" y1="401.90" x2="291.22" y2="409.27" stroke="#111" stroke-width="1.7" />
<polygon points="287.5,411.5 290.5,406.1 293.7,411.4" fill="#111"/>
<line x1="390.60" y1="122.30" x2="390.60" y2="123.20" stroke="#111" stroke-width="1.3" />
<line x1="387.13" y1="122.30" x2="394.07" y2="122.30" stroke="#111" stroke-width="1.3" />
<rect x="384.90" y="123.70" width="11.40" height="13.90" fill="#fff" stroke="#111" stroke-width="1.0"/>
<line x1="405.40" y1="122.40" x2="405.40" y2="123.20" stroke="#111" stroke-width="1.3" />
<line x1="401.70" y1="122.40" x2="409.10" y2="122.40" stroke="#111" stroke-width="1.3" />
<rect x="399.30" y="123.70" width="12.20" height="13.90" fill="url(#hat)" stroke="#111" stroke-width="1.0"/>
<line x1="433.30" y1="59.50" x2="433.30" y2="62.50" stroke="#111" stroke-width="1.3" />
<line x1="429.38" y1="59.50" x2="437.22" y2="59.50" stroke="#111" stroke-width="1.3" />
<rect x="426.80" y="63.00" width="13.00" height="74.60" fill="#fff" stroke="#111" stroke-width="1.0"/>
<line x1="448.15" y1="106.90" x2="448.15" y2="107.80" stroke="#111" stroke-width="1.3" />
<line x1="444.31" y1="106.90" x2="451.99" y2="106.90" stroke="#111" stroke-width="1.3" />
<rect x="441.80" y="108.30" width="12.70" height="29.30" fill="url(#hat)" stroke="#111" stroke-width="1.0"/>
<line x1="476.20" y1="70.20" x2="476.20" y2="73.00" stroke="#111" stroke-width="1.3" />
<line x1="472.62" y1="70.20" x2="479.78" y2="70.20" stroke="#111" stroke-width="1.3" />
<rect x="470.30" y="73.50" width="11.80" height="64.10" fill="#fff" stroke="#111" stroke-width="1.0"/>
<line x1="490.70" y1="109.20" x2="490.70" y2="110.00" stroke="#111" stroke-width="1.3" />
<line x1="486.95" y1="109.20" x2="494.45" y2="109.20" stroke="#111" stroke-width="1.3" />
<rect x="484.50" y="110.50" width="12.40" height="27.10" fill="url(#hat)" stroke="#111" stroke-width="1.0"/>
<line x1="375.90" y1="52.34" x2="375.90" y2="138.20" stroke="#111" stroke-width="1.3" />
<line x1="375.30" y1="137.60" x2="505.00" y2="137.60" stroke="#111" stroke-width="1.3" />
<line x1="373.90" y1="137.60" x2="375.90" y2="137.60" stroke="#111" stroke-width="1.04" />
<text x="373.10" y="139.72" font-size="5.9" font-weight="bold" text-anchor="end" fill="#111"  stroke="#111" stroke-width="0.3">0</text>
<line x1="373.90" y1="128.16" x2="375.90" y2="128.16" stroke="#111" stroke-width="1.04" />
<text x="373.10" y="130.28" font-size="5.9" font-weight="bold" text-anchor="end" fill="#111"  stroke="#111" stroke-width="0.3">5</text>
<line x1="373.90" y1="118.72" x2="375.90" y2="118.72" stroke="#111" stroke-width="1.04" />
<text x="373.10" y="120.84" font-size="5.9" font-weight="bold" text-anchor="end" fill="#111"  stroke="#111" stroke-width="0.3">10</text>
<line x1="373.90" y1="109.28" x2="375.90" y2="109.28" stroke="#111" stroke-width="1.04" />
<text x="373.10" y="111.40" font-size="5.9" font-weight="bold" text-anchor="end" fill="#111"  stroke="#111" stroke-width="0.3">15</text>
<line x1="373.90" y1="99.84" x2="375.90" y2="99.84" stroke="#111" stroke-width="1.04" />
<text x="373.10" y="101.96" font-size="5.9" font-weight="bold" text-anchor="end" fill="#111"  stroke="#111" stroke-width="0.3">20</text>
<line x1="373.90" y1="90.40" x2="375.90" y2="90.40" stroke="#111" stroke-width="1.04" />
<text x="373.10" y="92.52" font-size="5.9" font-weight="bold" text-anchor="end" fill="#111"  stroke="#111" stroke-width="0.3">25</text>
<line x1="373.90" y1="80.96" x2="375.90" y2="80.96" stroke="#111" stroke-width="1.04" />
<text x="373.10" y="83.08" font-size="5.9" font-weight="bold" text-anchor="end" fill="#111"  stroke="#111" stroke-width="0.3">30</text>
<line x1="373.90" y1="71.52" x2="375.90" y2="71.52" stroke="#111" stroke-width="1.04" />
<text x="373.10" y="73.64" font-size="5.9" font-weight="bold" text-anchor="end" fill="#111"  stroke="#111" stroke-width="0.3">35</text>
<line x1="373.90" y1="62.08" x2="375.90" y2="62.08" stroke="#111" stroke-width="1.04" />
<text x="373.10" y="64.20" font-size="5.9" font-weight="bold" text-anchor="end" fill="#111"  stroke="#111" stroke-width="0.3">40</text>
<line x1="373.90" y1="52.64" x2="375.90" y2="52.64" stroke="#111" stroke-width="1.04" />
<text x="373.10" y="54.76" font-size="5.9" font-weight="bold" text-anchor="end" fill="#111"  stroke="#111" stroke-width="0.3">45</text>
<text x="397.90" y="145.70" font-size="6.1" font-weight="bold" text-anchor="middle" fill="#111" textLength="20.5" lengthAdjust="spacingAndGlyphs"  stroke="#111" stroke-width="0.2">Resting</text>
<text x="440.40" y="145.70" font-size="6.1" font-weight="bold" text-anchor="middle" fill="#111" textLength="26.8" lengthAdjust="spacingAndGlyphs"  stroke="#111" stroke-width="0.2">Thrombin</text>
<text x="483.40" y="145.70" font-size="6.1" font-weight="bold" text-anchor="middle" fill="#111" textLength="14.8" lengthAdjust="spacingAndGlyphs"  stroke="#111" stroke-width="0.2">TRAP</text>
<text x="361.00" y="94.20" font-size="6.5" font-weight="bold" text-anchor="middle" fill="#111" transform="rotate(-90 361.00 94.20)" textLength="43.5" lengthAdjust="spacingAndGlyphs"  stroke="#111" stroke-width="0.2">CD62P  (MFI)</text>
<rect x="451.85" y="19.95" width="10.80" height="2.90" fill="#fff" stroke="#111" stroke-width="1.1"/>
<text x="465.20" y="23.75" font-size="6.9" font-weight="normal" text-anchor="start" fill="#111" textLength="30.6" lengthAdjust="spacingAndGlyphs"  stroke="#111" stroke-width="0.35">Wild Type</text>
<rect x="451.85" y="29.45" width="10.80" height="2.90" fill="url(#hat)" stroke="#111" stroke-width="1.1"/>
<text x="465.20" y="33.25" font-size="6.9" font-weight="normal" text-anchor="start" fill="#111" textLength="32.0" lengthAdjust="spacingAndGlyphs"  stroke="#111" stroke-width="0.35">Fg/VWF-/-</text>
<line x1="444.80" y1="96.80" x2="444.80" y2="103.20" stroke="#222" stroke-width="1.15" />
<line x1="442.03" y1="98.40" x2="447.57" y2="101.60" stroke="#222" stroke-width="1.15" />
<line x1="447.57" y1="98.40" x2="442.03" y2="101.60" stroke="#222" stroke-width="1.15" />
<line x1="452.10" y1="96.80" x2="452.10" y2="103.20" stroke="#222" stroke-width="1.15" />
<line x1="449.33" y1="98.40" x2="454.87" y2="101.60" stroke="#222" stroke-width="1.15" />
<line x1="454.87" y1="98.40" x2="449.33" y2="101.60" stroke="#222" stroke-width="1.15" />
<line x1="489.20" y1="98.20" x2="489.20" y2="104.60" stroke="#222" stroke-width="1.15" />
<line x1="486.43" y1="99.80" x2="491.97" y2="103.00" stroke="#222" stroke-width="1.15" />
<line x1="491.97" y1="99.80" x2="486.43" y2="103.00" stroke="#222" stroke-width="1.15" />
<line x1="496.50" y1="98.20" x2="496.50" y2="104.60" stroke="#222" stroke-width="1.15" />
<line x1="493.73" y1="99.80" x2="499.27" y2="103.00" stroke="#222" stroke-width="1.15" />
<line x1="499.27" y1="99.80" x2="493.73" y2="103.00" stroke="#222" stroke-width="1.15" />
<line x1="391.85" y1="280.40" x2="391.85" y2="280.80" stroke="#111" stroke-width="1.3" />
<line x1="388.18" y1="280.40" x2="395.52" y2="280.40" stroke="#111" stroke-width="1.3" />
<rect x="385.80" y="281.30" width="12.10" height="17.90" fill="#fff" stroke="#111" stroke-width="1.0"/>
<line x1="407.25" y1="281.20" x2="407.25" y2="282.20" stroke="#111" stroke-width="1.3" />
<line x1="403.58" y1="281.20" x2="410.92" y2="281.20" stroke="#111" stroke-width="1.3" />
<rect x="401.20" y="282.70" width="12.10" height="16.50" fill="url(#hat)" stroke="#111" stroke-width="1.0"/>
<line x1="434.35" y1="220.80" x2="434.35" y2="234.50" stroke="#111" stroke-width="1.3" />
<line x1="430.51" y1="220.80" x2="438.19" y2="220.80" stroke="#111" stroke-width="1.3" />
<rect x="428.00" y="235.00" width="12.70" height="64.20" fill="#fff" stroke="#111" stroke-width="1.0"/>
<line x1="450.05" y1="229.00" x2="450.05" y2="237.10" stroke="#111" stroke-width="1.3" />
<line x1="446.21" y1="229.00" x2="453.89" y2="229.00" stroke="#111" stroke-width="1.3" />
<rect x="443.70" y="237.60" width="12.70" height="61.60" fill="url(#hat)" stroke="#111" stroke-width="1.0"/>
<line x1="477.50" y1="226.70" x2="477.50" y2="232.20" stroke="#111" stroke-width="1.3" />
<line x1="473.86" y1="226.70" x2="481.14" y2="226.70" stroke="#111" stroke-width="1.3" />
<rect x="471.50" y="232.70" width="12.00" height="66.50" fill="#fff" stroke="#111" stroke-width="1.0"/>
<line x1="493.00" y1="237.80" x2="493.00" y2="242.70" stroke="#111" stroke-width="1.3" />
<line x1="489.25" y1="237.80" x2="496.75" y2="237.80" stroke="#111" stroke-width="1.3" />
<rect x="486.80" y="243.20" width="12.40" height="56.00" fill="url(#hat)" stroke="#111" stroke-width="1.0"/>
<line x1="378.20" y1="213.30" x2="378.20" y2="299.80" stroke="#111" stroke-width="1.3" />
<line x1="377.60" y1="299.20" x2="507.30" y2="299.20" stroke="#111" stroke-width="1.3" />
<line x1="375.60" y1="299.20" x2="378.20" y2="299.20" stroke="#111" stroke-width="1.04" />
<text x="374.80" y="301.50" font-size="6.4" font-weight="bold" text-anchor="end" fill="#111"  stroke="#111" stroke-width="0.3">0</text>
<line x1="375.60" y1="277.80" x2="378.20" y2="277.80" stroke="#111" stroke-width="1.04" />
<text x="374.80" y="280.10" font-size="6.4" font-weight="bold" text-anchor="end" fill="#111"  stroke="#111" stroke-width="0.3">10</text>
<line x1="375.60" y1="256.40" x2="378.20" y2="256.40" stroke="#111" stroke-width="1.04" />
<text x="374.80" y="258.70" font-size="6.4" font-weight="bold" text-anchor="end" fill="#111"  stroke="#111" stroke-width="0.3">20</text>
<line x1="375.60" y1="235.00" x2="378.20" y2="235.00" stroke="#111" stroke-width="1.04" />
<text x="374.80" y="237.30" font-size="6.4" font-weight="bold" text-anchor="end" fill="#111"  stroke="#111" stroke-width="0.3">30</text>
<line x1="375.60" y1="213.60" x2="378.20" y2="213.60" stroke="#111" stroke-width="1.04" />
<text x="374.80" y="215.90" font-size="6.4" font-weight="bold" text-anchor="end" fill="#111"  stroke="#111" stroke-width="0.3">40</text>
<text x="400.00" y="308.10" font-size="6.5" font-weight="bold" text-anchor="middle" fill="#111" textLength="22.9" lengthAdjust="spacingAndGlyphs"  stroke="#111" stroke-width="0.2">Resting</text>
<text x="442.50" y="308.10" font-size="6.5" font-weight="bold" text-anchor="middle" fill="#111" textLength="29.4" lengthAdjust="spacingAndGlyphs"  stroke="#111" stroke-width="0.2">Thrombin</text>
<text x="485.30" y="308.10" font-size="6.5" font-weight="bold" text-anchor="middle" fill="#111" textLength="17.0" lengthAdjust="spacingAndGlyphs"  stroke="#111" stroke-width="0.2">TRAP</text>
<text x="361.60" y="256.40" font-size="7" font-weight="bold" text-anchor="middle" fill="#111" transform="rotate(-90 361.60 256.40)" textLength="41.3" lengthAdjust="spacingAndGlyphs"  stroke="#111" stroke-width="0.2">CD62P (MFI)</text>
<rect x="453.65" y="180.95" width="11.80" height="3.50" fill="#fff" stroke="#111" stroke-width="1.1"/>
<text x="467.50" y="185.22" font-size="7.4" font-weight="normal" text-anchor="start" fill="#111" textLength="30.8" lengthAdjust="spacingAndGlyphs"  stroke="#111" stroke-width="0.35">Wild Type</text>
<rect x="453.65" y="190.35" width="11.80" height="3.60" fill="url(#hat)" stroke="#111" stroke-width="1.1"/>
<text x="467.50" y="194.67" font-size="7.4" font-weight="normal" text-anchor="start" fill="#111" textLength="23.1" lengthAdjust="spacingAndGlyphs"  stroke="#111" stroke-width="0.35">VWF-/-</text>
<line x1="394.55" y1="446.30" x2="394.55" y2="451.00" stroke="#111" stroke-width="1.4949999999999999" />
<line x1="391.61" y1="446.30" x2="397.49" y2="446.30" stroke="#111" stroke-width="1.4949999999999999" />
<rect x="389.88" y="451.57" width="9.35" height="18.23" fill="#fff" stroke="#111" stroke-width="1.15"/>
<line x1="406.40" y1="448.80" x2="406.40" y2="453.00" stroke="#111" stroke-width="1.4949999999999999" />
<line x1="403.49" y1="448.80" x2="409.31" y2="448.80" stroke="#111" stroke-width="1.4949999999999999" />
<rect x="401.77" y="453.57" width="9.25" height="16.23" fill="url(#hat)" stroke="#111" stroke-width="1.15"/>
<line x1="418.50" y1="447.50" x2="418.50" y2="452.30" stroke="#111" stroke-width="1.4949999999999999" />
<line x1="415.53" y1="447.50" x2="421.47" y2="447.50" stroke="#111" stroke-width="1.4949999999999999" />
<rect x="413.77" y="452.88" width="9.45" height="16.93" fill="url(#dot)" stroke="#111" stroke-width="1.15"/>
<line x1="439.50" y1="380.80" x2="439.50" y2="389.50" stroke="#111" stroke-width="1.4949999999999999" />
<line x1="436.70" y1="380.80" x2="442.30" y2="380.80" stroke="#111" stroke-width="1.4949999999999999" />
<rect x="435.07" y="390.07" width="8.85" height="79.73" fill="#fff" stroke="#111" stroke-width="1.15"/>
<line x1="451.30" y1="381.30" x2="451.30" y2="390.50" stroke="#111" stroke-width="1.4949999999999999" />
<line x1="448.50" y1="381.30" x2="454.10" y2="381.30" stroke="#111" stroke-width="1.4949999999999999" />
<rect x="446.88" y="391.07" width="8.85" height="78.73" fill="url(#hat)" stroke="#111" stroke-width="1.15"/>
<line x1="463.10" y1="417.00" x2="463.10" y2="424.50" stroke="#111" stroke-width="1.4949999999999999" />
<line x1="460.36" y1="417.00" x2="465.84" y2="417.00" stroke="#111" stroke-width="1.4949999999999999" />
<rect x="458.77" y="425.07" width="8.65" height="44.73" fill="url(#dot)" stroke="#111" stroke-width="1.15"/>
<line x1="484.30" y1="390.80" x2="484.30" y2="401.50" stroke="#111" stroke-width="1.4949999999999999" />
<line x1="481.50" y1="390.80" x2="487.10" y2="390.80" stroke="#111" stroke-width="1.4949999999999999" />
<rect x="479.88" y="402.07" width="8.85" height="67.73" fill="#fff" stroke="#111" stroke-width="1.15"/>
<line x1="495.80" y1="392.50" x2="495.80" y2="400.00" stroke="#111" stroke-width="1.4949999999999999" />
<line x1="493.00" y1="392.50" x2="498.60" y2="392.50" stroke="#111" stroke-width="1.4949999999999999" />
<rect x="491.38" y="400.57" width="8.85" height="69.23" fill="url(#hat)" stroke="#111" stroke-width="1.15"/>
<line x1="507.50" y1="416.30" x2="507.50" y2="425.00" stroke="#111" stroke-width="1.4949999999999999" />
<line x1="504.70" y1="416.30" x2="510.30" y2="416.30" stroke="#111" stroke-width="1.4949999999999999" />
<rect x="503.07" y="425.57" width="8.85" height="44.23" fill="url(#dot)" stroke="#111" stroke-width="1.15"/>
<line x1="384.40" y1="380.40" x2="384.40" y2="470.40" stroke="#111" stroke-width="1.05" />
<line x1="383.80" y1="469.80" x2="516.00" y2="469.80" stroke="#111" stroke-width="1.05" />
<line x1="382.20" y1="469.80" x2="384.40" y2="469.80" stroke="#111" stroke-width="0.8400000000000001" />
<text x="381.40" y="472.03" font-size="6.2" font-weight="bold" text-anchor="end" fill="#111"  stroke="#111" stroke-width="0.3">0</text>
<line x1="382.20" y1="459.90" x2="384.40" y2="459.90" stroke="#111" stroke-width="0.8400000000000001" />
<text x="381.40" y="462.13" font-size="6.2" font-weight="bold" text-anchor="end" fill="#111"  stroke="#111" stroke-width="0.3">5</text>
<line x1="382.20" y1="450.00" x2="384.40" y2="450.00" stroke="#111" stroke-width="0.8400000000000001" />
<text x="381.40" y="452.23" font-size="6.2" font-weight="bold" text-anchor="end" fill="#111"  stroke="#111" stroke-width="0.3">10</text>
<line x1="382.20" y1="440.10" x2="384.40" y2="440.10" stroke="#111" stroke-width="0.8400000000000001" />
<text x="381.40" y="442.33" font-size="6.2" font-weight="bold" text-anchor="end" fill="#111"  stroke="#111" stroke-width="0.3">15</text>
<line x1="382.20" y1="430.20" x2="384.40" y2="430.20" stroke="#111" stroke-width="0.8400000000000001" />
<text x="381.40" y="432.43" font-size="6.2" font-weight="bold" text-anchor="end" fill="#111"  stroke="#111" stroke-width="0.3">20</text>
<line x1="382.20" y1="420.30" x2="384.40" y2="420.30" stroke="#111" stroke-width="0.8400000000000001" />
<text x="381.40" y="422.53" font-size="6.2" font-weight="bold" text-anchor="end" fill="#111"  stroke="#111" stroke-width="0.3">25</text>
<line x1="382.20" y1="410.40" x2="384.40" y2="410.40" stroke="#111" stroke-width="0.8400000000000001" />
<text x="381.40" y="412.63" font-size="6.2" font-weight="bold" text-anchor="end" fill="#111"  stroke="#111" stroke-width="0.3">30</text>
<line x1="382.20" y1="400.50" x2="384.40" y2="400.50" stroke="#111" stroke-width="0.8400000000000001" />
<text x="381.40" y="402.73" font-size="6.2" font-weight="bold" text-anchor="end" fill="#111"  stroke="#111" stroke-width="0.3">35</text>
<line x1="382.20" y1="390.60" x2="384.40" y2="390.60" stroke="#111" stroke-width="0.8400000000000001" />
<text x="381.40" y="392.83" font-size="6.2" font-weight="bold" text-anchor="end" fill="#111"  stroke="#111" stroke-width="0.3">40</text>
<line x1="382.20" y1="380.70" x2="384.40" y2="380.70" stroke="#111" stroke-width="0.8400000000000001" />
<text x="381.40" y="382.93" font-size="6.2" font-weight="bold" text-anchor="end" fill="#111"  stroke="#111" stroke-width="0.3">45</text>
<text x="406.60" y="478.40" font-size="6.1" font-weight="bold" text-anchor="middle" fill="#111" textLength="20.8" lengthAdjust="spacingAndGlyphs"  stroke="#111" stroke-width="0.2">Resting</text>
<text x="451.00" y="478.40" font-size="6.1" font-weight="bold" text-anchor="middle" fill="#111" textLength="27.0" lengthAdjust="spacingAndGlyphs"  stroke="#111" stroke-width="0.2">Thrombin</text>
<text x="494.80" y="478.40" font-size="6.1" font-weight="bold" text-anchor="middle" fill="#111" textLength="14.6" lengthAdjust="spacingAndGlyphs"  stroke="#111" stroke-width="0.2">TRAP</text>
<text x="367.70" y="425.80" font-size="7" font-weight="bold" text-anchor="middle" fill="#111" transform="rotate(-90 367.70 425.80)" textLength="43.0" lengthAdjust="spacingAndGlyphs"  stroke="#111" stroke-width="0.2">CD62P (MFI)</text>
<rect x="465.75" y="348.05" width="11.90" height="3.30" fill="#fff" stroke="#111" stroke-width="1.1"/>
<text x="480.50" y="352.25" font-size="7.5" font-weight="normal" text-anchor="start" fill="#111" textLength="32.8" lengthAdjust="spacingAndGlyphs"  stroke="#111" stroke-width="0.35">Wild Type</text>
<rect x="465.75" y="358.45" width="11.90" height="3.20" fill="url(#hat)" stroke="#111" stroke-width="1.1"/>
<text x="480.50" y="362.60" font-size="7.5" font-weight="normal" text-anchor="start" fill="#111" textLength="17.5" lengthAdjust="spacingAndGlyphs"  stroke="#111" stroke-width="0.35">Fg+/-</text>
<rect x="465.75" y="368.85" width="11.90" height="3.10" fill="url(#dot)" stroke="#111" stroke-width="1.1"/>
<text x="480.50" y="372.95" font-size="7.5" font-weight="normal" text-anchor="start" fill="#111" textLength="15.5" lengthAdjust="spacingAndGlyphs"  stroke="#111" stroke-width="0.35">Fg-/-</text>
<line x1="460.60" y1="408.30" x2="460.60" y2="414.70" stroke="#222" stroke-width="1.15" />
<line x1="457.83" y1="409.90" x2="463.37" y2="413.10" stroke="#222" stroke-width="1.15" />
<line x1="463.37" y1="409.90" x2="457.83" y2="413.10" stroke="#222" stroke-width="1.15" />
<line x1="467.50" y1="408.30" x2="467.50" y2="414.70" stroke="#222" stroke-width="1.15" />
<line x1="464.73" y1="409.90" x2="470.27" y2="413.10" stroke="#222" stroke-width="1.15" />
<line x1="470.27" y1="409.90" x2="464.73" y2="413.10" stroke="#222" stroke-width="1.15" />
<line x1="505.40" y1="408.30" x2="505.40" y2="414.70" stroke="#222" stroke-width="1.15" />
<line x1="502.63" y1="409.90" x2="508.17" y2="413.10" stroke="#222" stroke-width="1.15" />
<line x1="508.17" y1="409.90" x2="502.63" y2="413.10" stroke="#222" stroke-width="1.15" />
<line x1="512.30" y1="408.30" x2="512.30" y2="414.70" stroke="#222" stroke-width="1.15" />
<line x1="509.53" y1="409.90" x2="515.07" y2="413.10" stroke="#222" stroke-width="1.15" />
<line x1="515.07" y1="409.90" x2="509.53" y2="413.10" stroke="#222" stroke-width="1.15" />
<text x="12.40" y="508.00" font-size="11.4" font-weight="bold" text-anchor="start" fill="#000"  stroke="#000" stroke-width="0.2">D</text>
<line x1="42.00" y1="586.80" x2="42.00" y2="587.20" stroke="#111" stroke-width="1.3" />
<line x1="38.81" y1="586.80" x2="45.19" y2="586.80" stroke="#111" stroke-width="1.3" />
<rect x="36.80" y="587.70" width="10.40" height="19.10" fill="#fff" stroke="#111" stroke-width="1.0"/>
<line x1="58.85" y1="585.10" x2="58.85" y2="585.50" stroke="#111" stroke-width="1.3" />
<line x1="55.57" y1="585.10" x2="62.13" y2="585.10" stroke="#111" stroke-width="1.3" />
<rect x="53.50" y="586.00" width="10.70" height="20.80" fill="url(#hat)" stroke="#111" stroke-width="1.0"/>
<line x1="87.40" y1="549.50" x2="87.40" y2="553.80" stroke="#111" stroke-width="1.3" />
<line x1="84.15" y1="549.50" x2="90.65" y2="549.50" stroke="#111" stroke-width="1.3" />
<rect x="82.10" y="554.30" width="10.60" height="52.50" fill="#fff" stroke="#111" stroke-width="1.0"/>
<line x1="104.30" y1="570.30" x2="104.30" y2="571.30" stroke="#111" stroke-width="1.3" />
<line x1="101.00" y1="570.30" x2="107.60" y2="570.30" stroke="#111" stroke-width="1.3" />
<rect x="98.90" y="571.80" width="10.80" height="35.00" fill="url(#hat)" stroke="#111" stroke-width="1.0"/>
<line x1="132.90" y1="528.30" x2="132.90" y2="529.50" stroke="#111" stroke-width="1.3" />
<line x1="129.60" y1="528.30" x2="136.20" y2="528.30" stroke="#111" stroke-width="1.3" />
<rect x="127.50" y="530.00" width="10.80" height="76.80" fill="#fff" stroke="#111" stroke-width="1.0"/>
<line x1="149.45" y1="562.60" x2="149.45" y2="563.40" stroke="#111" stroke-width="1.3" />
<line x1="145.89" y1="562.60" x2="153.01" y2="562.60" stroke="#111" stroke-width="1.3" />
<rect x="143.60" y="563.90" width="11.70" height="42.90" fill="url(#hat)" stroke="#111" stroke-width="1.0"/>
<line x1="27.80" y1="515.99" x2="27.80" y2="607.40" stroke="#111" stroke-width="1.3" />
<line x1="27.20" y1="606.80" x2="163.80" y2="606.80" stroke="#111" stroke-width="1.3" />
<line x1="25.20" y1="606.80" x2="27.80" y2="606.80" stroke="#111" stroke-width="1.04" />
<text x="24.40" y="609.10" font-size="6.4" font-weight="bold" text-anchor="end" fill="#111"  stroke="#111" stroke-width="0.3">0</text>
<line x1="25.20" y1="593.87" x2="27.80" y2="593.87" stroke="#111" stroke-width="1.04" />
<text x="24.40" y="596.17" font-size="6.4" font-weight="bold" text-anchor="end" fill="#111"  stroke="#111" stroke-width="0.3">5</text>
<line x1="25.20" y1="580.94" x2="27.80" y2="580.94" stroke="#111" stroke-width="1.04" />
<text x="24.40" y="583.24" font-size="6.4" font-weight="bold" text-anchor="end" fill="#111"  stroke="#111" stroke-width="0.3">10</text>
<line x1="25.20" y1="568.01" x2="27.80" y2="568.01" stroke="#111" stroke-width="1.04" />
<text x="24.40" y="570.31" font-size="6.4" font-weight="bold" text-anchor="end" fill="#111"  stroke="#111" stroke-width="0.3">15</text>
<line x1="25.20" y1="555.08" x2="27.80" y2="555.08" stroke="#111" stroke-width="1.04" />
<text x="24.40" y="557.38" font-size="6.4" font-weight="bold" text-anchor="end" fill="#111"  stroke="#111" stroke-width="0.3">20</text>
<line x1="25.20" y1="542.15" x2="27.80" y2="542.15" stroke="#111" stroke-width="1.04" />
<text x="24.40" y="544.45" font-size="6.4" font-weight="bold" text-anchor="end" fill="#111"  stroke="#111" stroke-width="0.3">25</text>
<line x1="25.20" y1="529.22" x2="27.80" y2="529.22" stroke="#111" stroke-width="1.04" />
<text x="24.40" y="531.52" font-size="6.4" font-weight="bold" text-anchor="end" fill="#111"  stroke="#111" stroke-width="0.3">30</text>
<line x1="25.20" y1="516.29" x2="27.80" y2="516.29" stroke="#111" stroke-width="1.04" />
<text x="24.40" y="518.59" font-size="6.4" font-weight="bold" text-anchor="end" fill="#111"  stroke="#111" stroke-width="0.3">35</text>
<text x="50.00" y="616.20" font-size="6.8" font-weight="bold" text-anchor="middle" fill="#111" textLength="25.0" lengthAdjust="spacingAndGlyphs"  stroke="#111" stroke-width="0.2">Resting</text>
<text x="96.00" y="616.20" font-size="6.8" font-weight="bold" text-anchor="middle" fill="#111" textLength="23.0" lengthAdjust="spacingAndGlyphs"  stroke="#111" stroke-width="0.2">A23187</text>
<text x="141.30" y="616.20" font-size="6.8" font-weight="bold" text-anchor="middle" fill="#111" textLength="15.0" lengthAdjust="spacingAndGlyphs"  stroke="#111" stroke-width="0.2">PMA</text>
<text x="10.90" y="562.00" font-size="7.4" font-weight="bold" text-anchor="middle" fill="#111" transform="rotate(-90 10.90 562.00)" textLength="43.8" lengthAdjust="spacingAndGlyphs"  stroke="#111" stroke-width="0.2">CD62P (MFI)</text>
<rect x="114.85" y="503.05" width="12.00" height="3.30" fill="#fff" stroke="#111" stroke-width="1.1"/>
<text x="129.90" y="507.25" font-size="7.5" font-weight="normal" text-anchor="start" fill="#111" textLength="32.3" lengthAdjust="spacingAndGlyphs"  stroke="#111" stroke-width="0.35">Wild Type</text>
<rect x="114.85" y="513.45" width="12.00" height="3.30" fill="url(#hat)" stroke="#111" stroke-width="1.1"/>
<text x="129.90" y="517.65" font-size="7.5" font-weight="normal" text-anchor="start" fill="#111" textLength="15.6" lengthAdjust="spacingAndGlyphs"  stroke="#111" stroke-width="0.35">Fg-/-</text>
<line x1="104.30" y1="561.40" x2="104.30" y2="567.40" stroke="#222" stroke-width="1.15" />
<line x1="101.70" y1="562.90" x2="106.90" y2="565.90" stroke="#222" stroke-width="1.15" />
<line x1="106.90" y1="562.90" x2="101.70" y2="565.90" stroke="#222" stroke-width="1.15" />
<line x1="145.30" y1="554.00" x2="145.30" y2="560.00" stroke="#222" stroke-width="1.15" />
<line x1="142.70" y1="555.50" x2="147.90" y2="558.50" stroke="#222" stroke-width="1.15" />
<line x1="147.90" y1="555.50" x2="142.70" y2="558.50" stroke="#222" stroke-width="1.15" />
<line x1="153.20" y1="554.00" x2="153.20" y2="560.00" stroke="#222" stroke-width="1.15" />
<line x1="150.60" y1="555.50" x2="155.80" y2="558.50" stroke="#222" stroke-width="1.15" />
<line x1="155.80" y1="555.50" x2="150.60" y2="558.50" stroke="#222" stroke-width="1.15" />
</svg>
</body></html>
